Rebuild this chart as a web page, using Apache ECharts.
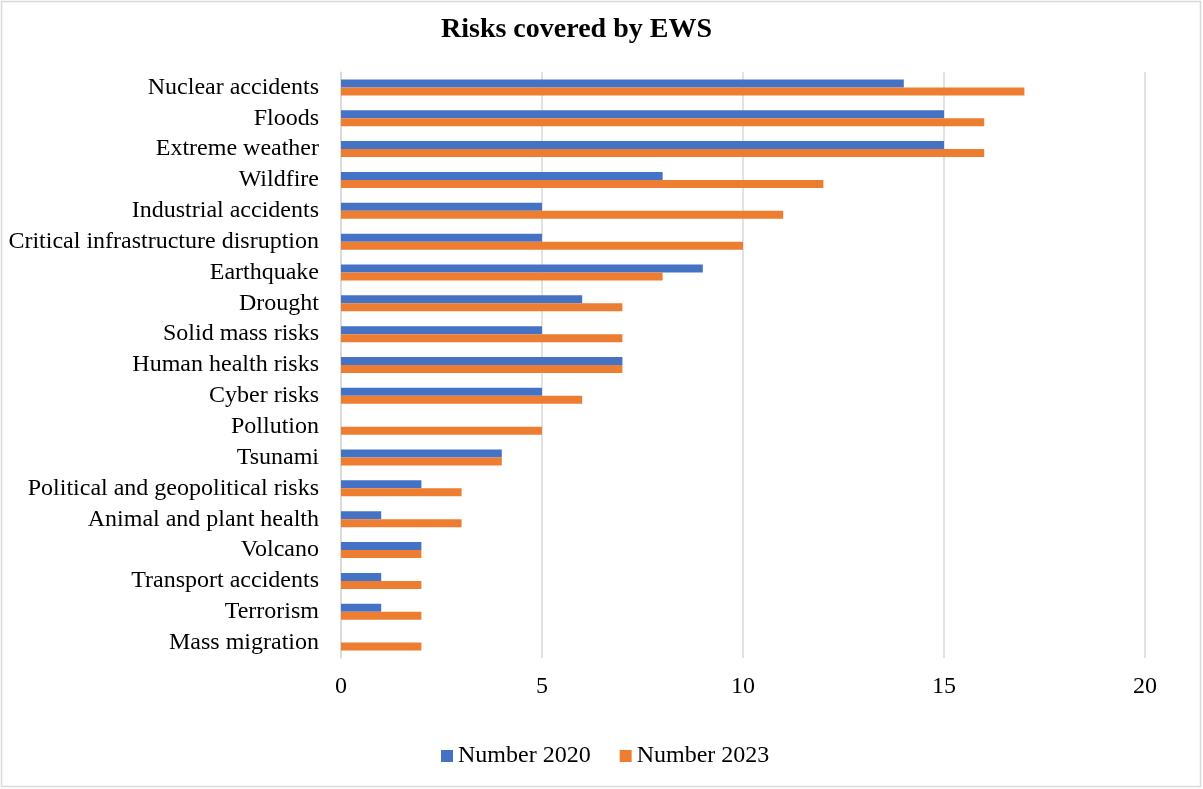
<!DOCTYPE html>
<html>
<head>
<meta charset="utf-8">
<script src="https://cdn.jsdelivr.net/npm/echarts@6/dist/echarts.min.js"></script>
<style>
  html, body { margin: 0; padding: 0; background: #fff; }
  #chart { width: 1203px; height: 789px; }
</style>
</head>
<body>
<div id="chart"></div>
<script>
// categories top to bottom
var categories = ['Nuclear accidents', 'Floods', 'Extreme weather', 'Wildfire', 'Industrial accidents',
  'Critical infrastructure disruption', 'Earthquake', 'Drought', 'Solid mass risks', 'Human health risks',
  'Cyber risks', 'Pollution', 'Tsunami', 'Political and geopolitical risks', 'Animal and plant health',
  'Volcano', 'Transport accidents', 'Terrorism', 'Mass migration']
var number2020 = [14, 15, 15, 8, 5, 5, 9, 6, 5, 7, 5, 0, 4, 2, 1, 2, 1, 1, 0]
var number2023 = [17, 16, 16, 12, 11, 10, 8, 7, 7, 7, 6, 5, 4, 3, 3, 2, 2, 2, 2]

var font = '"Liberation Serif", "Times New Roman", serif'
var myChart = echarts.init(document.getElementById('chart'))

var option = {
  animation: false,
  textStyle: { fontFamily: font },
  title: {
    text: 'Risks covered by EWS',
    left: 436,
    top: 11,
    textStyle: { fontFamily: font, fontSize: 28, fontWeight: 'bold', color: '#000' }
  },
  // outer frame
  graphic: [{
    type: 'rect',
    shape: { x: 1.5, y: 1.5, width: 1199, height: 785 },
    style: { fill: 'none', stroke: '#d9d9d9', lineWidth: 1.5 },
    silent: true
  }],
  legend: {
    top: 739,
    left: 436,
    itemWidth: 12,
    itemHeight: 12,
    itemGap: 29,
    icon: 'rect',
    textStyle: { fontFamily: font, fontSize: 24, color: '#000' },
    data: ['Number 2020', 'Number 2023']
  },
  grid: { left: 341, right: 58, top: 72, bottom: 131, containLabel: false },
  xAxis: {
    type: 'value',
    min: 0,
    max: 20,
    interval: 5,
    axisLine: { show: false },
    axisTick: { show: false },
    splitLine: { lineStyle: { color: '#d9d9d9', width: 1.5 } },
    axisLabel: { fontFamily: font, fontSize: 24, color: '#000', margin: 17 }
  },
  yAxis: {
    type: 'category',
    inverse: true,
    data: categories,
    axisLine: { show: true, lineStyle: { color: '#d9d9d9', width: 1.5 } },
    axisTick: { show: false },
    axisLabel: { fontFamily: font, fontSize: 24, color: '#000', margin: 22, interval: 0 }
  },
  series: [
    {
      name: 'Number 2020',
      type: 'bar',
      data: number2020,
      barWidth: 8,
      barGap: '0%',
      itemStyle: { color: '#4472c4' }
    },
    {
      name: 'Number 2023',
      type: 'bar',
      data: number2023,
      barWidth: 8,
      barGap: '0%',
      itemStyle: { color: '#ed7d31' }
    }
  ]
}

myChart.setOption(option)
</script>
</body>
</html>
